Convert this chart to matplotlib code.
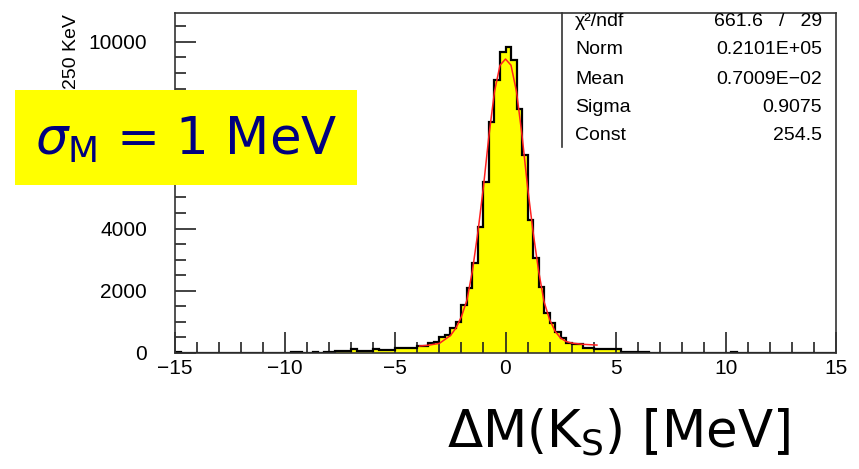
import matplotlib.pyplot as plt
import numpy as np
from matplotlib.patches import Rectangle
from matplotlib.ticker import MultipleLocator, FuncFormatter

plt.rcParams['mathtext.fontset'] = 'dejavusans'

# histogram: 120 bins of 250 keV from -15 to 15 MeV
bin_edges = np.linspace(-15, 15, 121)
counts = [
    30, 15, 8, 5, 10, 6, 8, 5, 10, 6,           # -15.0 .. -12.5
    8, 5, 6, 8, 5, 10, 6, 8, 5, 10,             # -12.5 .. -10.0
    8, 40, 40, 15, 15, 20, 15, 40, 45, 60,      # -10.0 .. -7.5
    55, 65, 120, 75, 80, 70, 140, 100, 95, 105, # -7.5 .. -5.0
    150, 170, 165, 175, 220, 215, 310, 360, 520, 580,     # -5.0 .. -2.5
    790, 1010, 1540, 2080, 2880, 4060, 5500, 7430, 8780, 9680,  # -2.5 .. 0
    9840, 9420, 7850, 6370, 4280, 3050, 2120, 1290, 960, 680,   # 0 .. 2.5
    480, 330, 290, 290, 160, 160, 120, 125, 120, 115,     # 2.5 .. 5.0
    120, 40, 45, 40, 40, 35, 8, 5, 6, 5,        # 5.0 .. 7.5
    8, 5, 6, 5, 8, 5, 6, 5, 5, 6,               # 7.5 .. 10.0
    0, 30, 0, 0, 0, 0, 0, 0, 0, 0,              # 10.0 .. 12.5
    0, 0, 0, 0, 0, 0, 0, 0, 0, 0,               # 12.5 .. 15.0
]

# fitted curve
fit_x = [-3.9, -3.5, -3.0, -2.5, -2.25, -2.0, -1.75, -1.5, -1.25, -1.0, -0.75, -0.5,
         -0.25, 0.0, 0.25, 0.5, 0.75, 1.0, 1.25, 1.5, 1.75, 2.0, 2.25, 2.5, 2.75,
         3.0, 3.5, 4.15]
fit_y = [225, 250, 310, 560, 800, 1170, 1700, 2650, 3900, 5350, 7000, 8400,
         9250, 9450, 9250, 8400, 7000, 5350, 3900, 2650, 1650, 1080, 700, 480, 370,
         320, 280, 255]

stat_names = ['\u03c7\u00b2/ndf', 'Norm', 'Mean', 'Sigma', 'Const']
stat_values = ['661.6   /   29', '0.2101E+05', '0.7009E\u221202', '0.9075', '254.5']

# y tick labels that sit behind the yellow box are not visible
hidden_yticks = [6000, 8000]

W, H = 859, 469
fig = plt.figure(figsize=(W / 100, H / 100), dpi=100)
ax = fig.add_axes([175 / W, 1 - 353 / H, 661 / W, 340 / H])

ax.stairs(counts, bin_edges, fill=True, color='#ffff00', zorder=1)
ax.stairs(counts, bin_edges, color='black', lw=1.6, zorder=2)
ax.plot(fit_x, fit_y, color='#ff2020', lw=1.1, zorder=3)

ax.set_xlim(-15, 15)
ax.set_ylim(0, 10930)
ax.xaxis.set_major_locator(MultipleLocator(5))
ax.xaxis.set_minor_locator(MultipleLocator(1))
ax.yaxis.set_major_locator(MultipleLocator(2000))
ax.yaxis.set_minor_locator(MultipleLocator(500))
ax.yaxis.set_major_formatter(FuncFormatter(
    lambda v, p: '' if round(v) in hidden_yticks else '%d' % v))
ax.tick_params(which='both', direction='in', top=False, right=False, width=1.2, color='#222222')
ax.tick_params(which='major', length=15)
ax.tick_params(which='minor', length=8)
ax.tick_params(axis='x', which='major', labelsize=15, pad=4)
ax.tick_params(axis='y', which='major', labelsize=15, pad=20)
for lab in ax.get_xticklabels() + ax.get_yticklabels():
    lab.set_family('Liberation Sans')
for sp in ax.spines.values():
    sp.set_color('#333333')
    sp.set_linewidth(1.2)

# stats box: left border line
box_x = (562 - 175) / 661 * 30 - 15
ax.plot([box_x, box_x], [10930, (353 - 147) / 340 * 10930],
        color='#333333', lw=1.2, clip_on=False, zorder=4)
rows_y = [22, 50, 79, 107, 136]
for name, val, yy in zip(stat_names, stat_values, rows_y):
    fig.text(575 / W, 1 - yy / H, name, ha='left', va='center', fontsize=14,
             family='Liberation Sans')
    fig.text(822 / W, 1 - yy / H, val, ha='right', va='center', fontsize=14,
             family='Liberation Sans')

# visible part of the y label (the rest sits behind the yellow box)
fig.text(72 / W, 1 - 14 / H, '250 KeV', rotation=90, ha='center', va='top',
         fontsize=14, family='Liberation Sans', zorder=0.5)

fig.patches.append(Rectangle((15 / W, 1 - 185 / H), 342 / W, 95 / H,
                             transform=fig.transFigure, facecolor='#ffff00',
                             edgecolor='none', zorder=1))
fig.text(35 / W, 1 - 155 / H, r'$\sigma_\mathrm{M}$ = 1 MeV', ha='left', va='baseline',
         fontsize=37, color='#00007f', zorder=3)

fig.text(447 / W, 1 - 447 / H, r'$\Delta$M(K$_\mathrm{S}$) [MeV]', ha='left', va='baseline',
         fontsize=37, color='black')

fig.savefig('out.png', dpi=100)
